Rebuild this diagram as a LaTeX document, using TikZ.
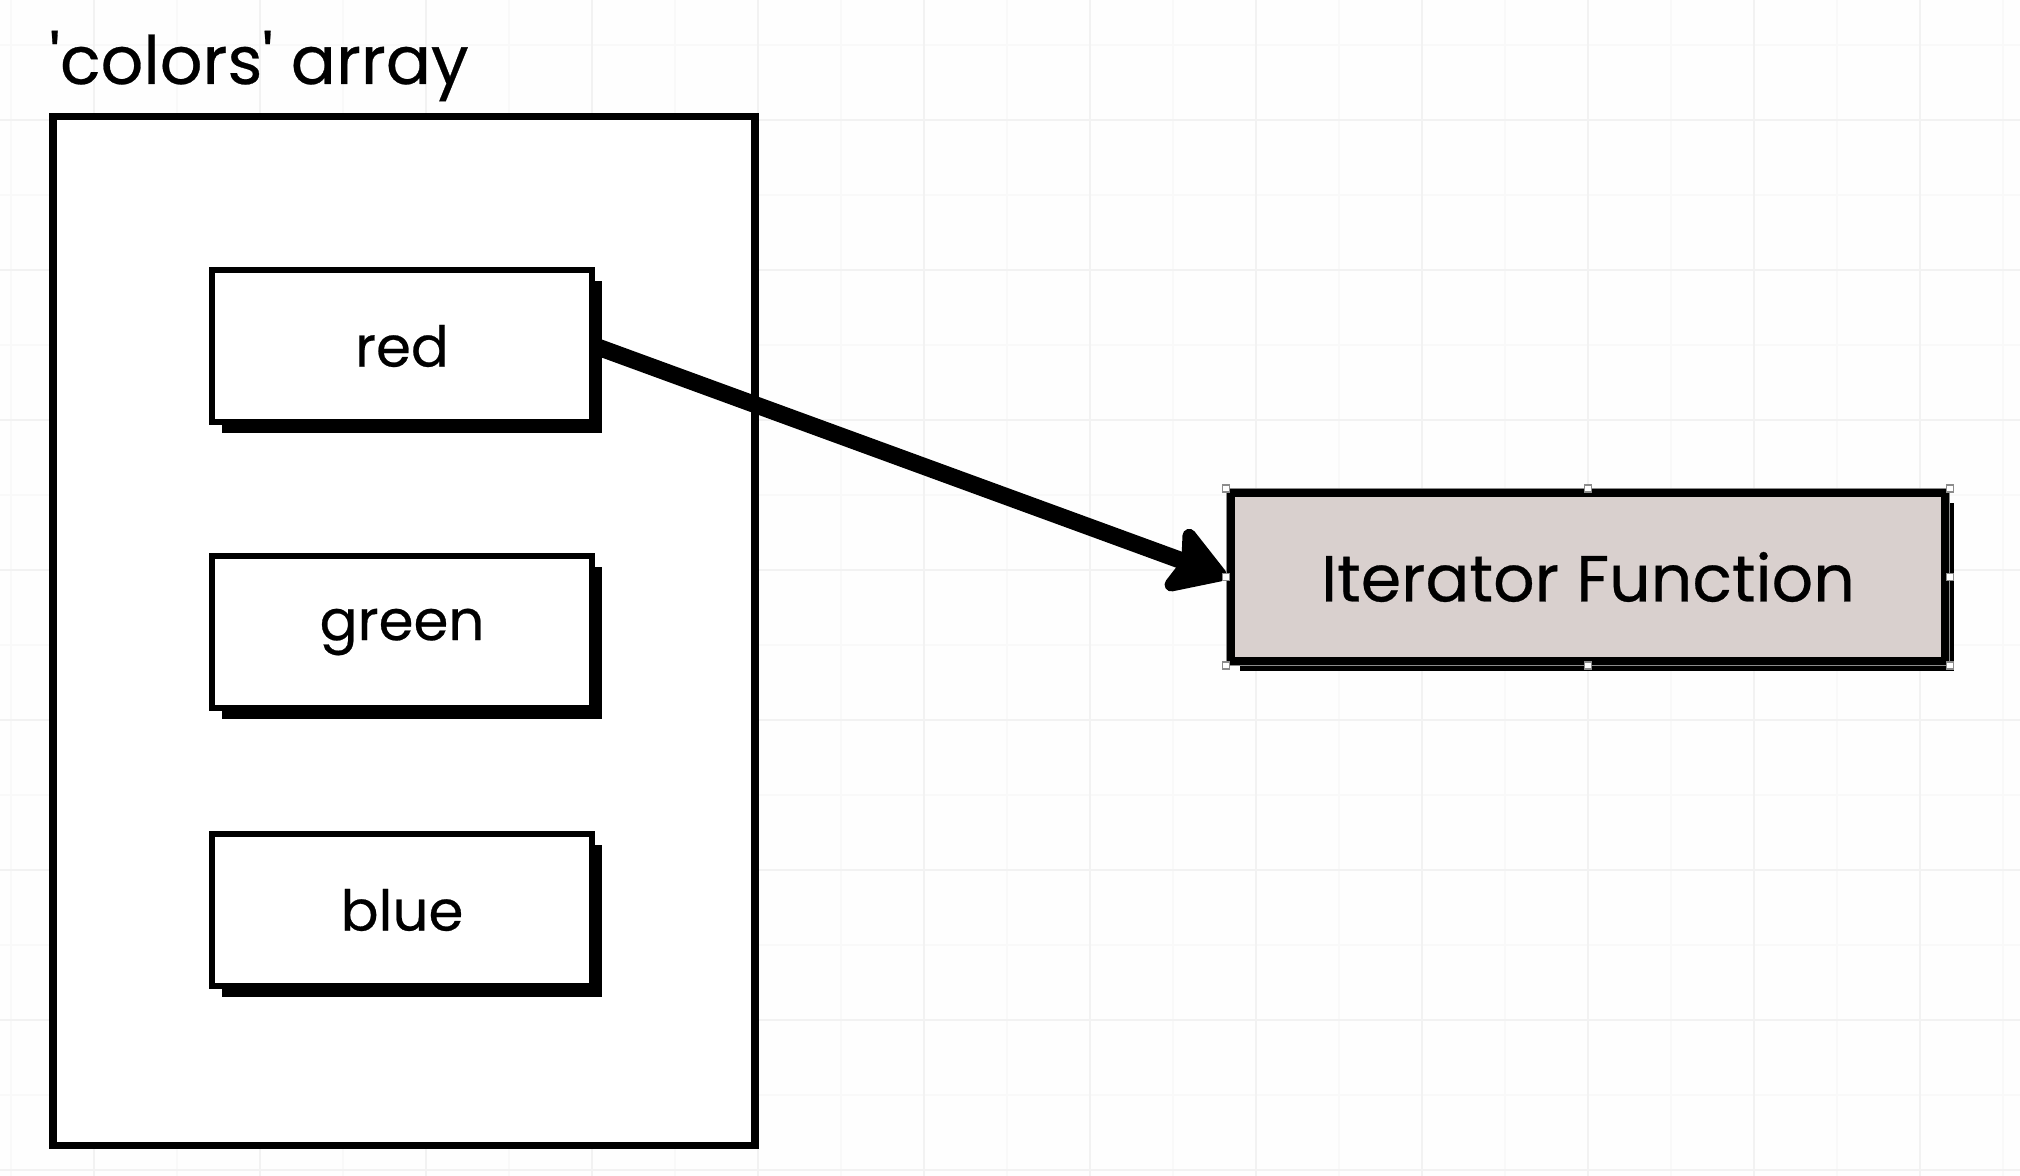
\documentclass[tikz,border=0pt]{standalone}
\usepackage{fontspec}
\newfontfamily\handfont[FakeBold=0.4]{Poppins}
\usetikzlibrary{arrows.meta,shadows}
\definecolor{iterfill}{HTML}{D9D0CE}

\begin{document}
\begin{tikzpicture}[x=0.01cm, y=-0.01cm,
    gridmajor/.style={draw=black!5, line width=0.025cm},
    gridminor/.style={draw=black!2.5, line width=0.02cm},
    item/.style={draw, fill=white, line width=0.055cm, minimum width=3.8cm,
      minimum height=1.52cm, font=\handfont\fontsize{16}{18}\selectfont,
      drop shadow={shadow xshift=0.1cm, shadow yshift=-0.11cm, fill=black, opacity=1}},
    handle/.style={draw=black!45, fill=white, line width=0.012cm, inner sep=0pt, minimum size=0.07cm},
    link/.style={line width=0.17cm, -{Stealth[round, length=0.66cm, width=0.8cm, inset=0.12cm]}}]
      \useasboundingbox (0,0) rectangle (2020,1176);
      \fill[white!99.5!black] (0,0) rectangle (2020,1176);
      % grid
      \foreach \gx in {11,177,...,2020} \draw[gridminor] (\gx,0) -- (\gx,1176);
      \foreach \gy in {45,195,...,1176} \draw[gridminor] (0,\gy) -- (2020,\gy);
      \foreach \gx in {94,260,...,2020} \draw[gridmajor] (\gx,0) -- (\gx,1176);
      \foreach \gy in {120,270,...,1176} \draw[gridmajor] (0,\gy) -- (2020,\gy);

      \node[anchor=base west, font=\handfont\fontsize{19}{22}\selectfont] (title) at (37,84) {'colors' array};
      \node[draw, fill=white, line width=0.075cm, minimum width=7.02cm, minimum height=10.28cm] (arr) at (404,631) {};

      \node[item] (red) at (402,346) {red};
      \node[item] (green) at (402,632) {green};
      \node[item] (blue) at (402,910) {blue};

      \node[draw, fill=iterfill, line width=0.09cm, minimum width=7.14cm, minimum height=1.68cm,
        font=\handfont\fontsize{18.5}{22}\selectfont,
        drop shadow={shadow xshift=0.09cm, shadow yshift=-0.1cm, fill=black, opacity=1}] (iter) at (1588,577) {Iterator Function};

      \draw[link] (red.east) -- (iter.west);

      % selection handles
      \draw[black!45, line width=0.012cm] (iter.north west) rectangle (iter.south east);
      \foreach \an in {north west,north,north east,east,south east,south,south west,west}
        \node[handle] at (iter.\an) {};
    \end{tikzpicture}
\end{document}
